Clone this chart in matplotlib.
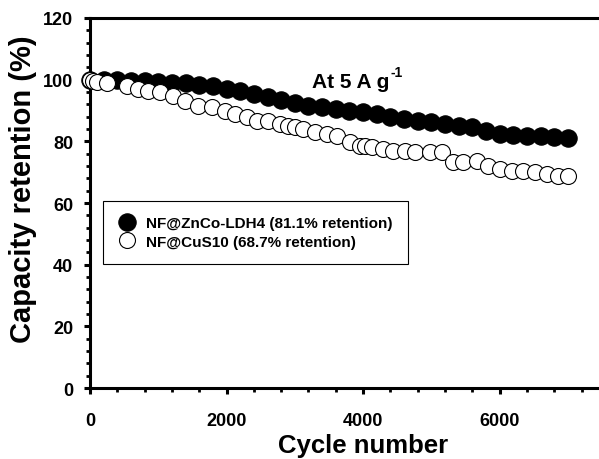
import matplotlib
matplotlib.use("Agg")
import matplotlib.pyplot as plt
from matplotlib.ticker import MultipleLocator

plt.rcParams['font.family'] = ['Liberation Sans', 'DejaVu Sans']

# ---- data ----
ldh_cycles = [0, 200, 400, 600, 800, 1000, 1200, 1400, 1600, 1800, 2000, 2200,
              2400, 2600, 2800, 3000, 3200, 3400, 3600, 3800, 4000, 4200, 4400,
              4600, 4800, 5000, 5200, 5400, 5600, 5800, 6000, 6200, 6400, 6600,
              6800, 7000]
ldh_retention = [100, 100, 99.8, 99.7, 99.5, 99.3, 99.0, 98.8, 98.3, 97.8, 97.0,
                 96.3, 95.5, 94.5, 93.3, 92.3, 91.5, 91.0, 90.5, 90.0, 89.5,
                 88.8, 88.0, 87.2, 86.6, 86.3, 85.6, 85.0, 84.6, 83.5, 82.3,
                 81.9, 81.7, 81.6, 81.4, 81.1]

cus_cycles = [0, 50, 100, 250, 540, 700, 850, 1025, 1215, 1390, 1580, 1790, 1980,
              2125, 2300, 2445, 2610, 2780, 2900, 3000, 3120, 3300, 3470, 3620,
              3810, 3960, 4030, 4130, 4290, 4440, 4615, 4760, 4980, 5160, 5320,
              5465, 5670, 5830, 6010, 6180, 6340, 6520, 6700, 6860, 7000]
cus_retention = [100, 99.5, 99.2, 99.0, 97.9, 96.9, 96.3, 96.0, 94.7, 93.0, 91.4,
                 91.0, 89.8, 88.8, 88.0, 86.5, 86.5, 85.6, 85.0, 84.6, 84.0, 83.0,
                 82.3, 81.7, 79.7, 78.4, 78.4, 78.1, 77.5, 76.8, 76.8, 76.6, 76.6,
                 76.4, 73.3, 73.3, 73.6, 72.0, 71.0, 70.3, 70.3, 70.0, 69.4, 68.9,
                 68.7]

labels = ["NF@ZnCo-LDH4 (81.1% retention)", "NF@CuS10 (68.7% retention)"]
x_ticks = [0, 2000, 4000, 6000]
y_ticks = [0, 20, 40, 60, 80, 100, 120]

# ---- figure ----
fig = plt.figure(figsize=(5.99, 4.60), dpi=100)
ax = fig.add_axes([0.1503, 0.1543, 1.062 - 0.1503, 0.9587 - 0.1543])

ax.plot(ldh_cycles, ldh_retention, 'o', ms=12.5, mfc='black', mec='black',
        mew=0.8, clip_on=False, label=labels[0], zorder=3)
ax.plot(cus_cycles, cus_retention, 'o', ms=11.5, mfc='white', mec='black',
        mew=0.8, clip_on=False, label=labels[1], zorder=4)

ax.set_xlim(0, 8000)
ax.set_ylim(0, 120)
ax.set_xticks(x_ticks)
ax.set_yticks(y_ticks)
ax.xaxis.set_minor_locator(MultipleLocator(400))
ax.yaxis.set_minor_locator(MultipleLocator(4))

for s in ax.spines.values():
    s.set_linewidth(2.2)
ax.tick_params(which='major', direction='out', length=4, width=2.2,
               labelsize=13, pad=8)
ax.tick_params(axis='x', which='major', pad=13)
ax.tick_params(which='minor', direction='out', length=3, width=2.0)
for lab in ax.get_xticklabels() + ax.get_yticklabels():
    lab.set_fontweight('bold')

ax.set_xlabel("Cycle number", fontsize=18.5, fontweight='bold', labelpad=3)
ax.set_ylabel("Capacity retention (%)", fontsize=21, fontweight='bold')
ax.yaxis.set_label_coords(-0.098, 0.54)

t = ax.text(3253, 97.6, "At 5 A g", fontsize=15, fontweight='bold',
            ha='left', va='baseline')
ax.annotate("-1", xy=(1.0, 0.62), xycoords=t, xytext=(1, 0),
            textcoords='offset points', fontsize=10, fontweight='bold',
            ha='left', va='bottom')

leg = ax.legend(loc='upper left', bbox_to_anchor=(0.024, 0.506), frameon=True,
                fancybox=False, edgecolor='black', framealpha=1,
                prop={'weight': 'bold', 'size': 11}, handletextpad=0.7,
                borderpad=1.0, labelspacing=0.3, handlelength=1.1,
                borderaxespad=0)
leg.get_frame().set_linewidth(0.8)

fig.savefig("out.png", dpi=100)
